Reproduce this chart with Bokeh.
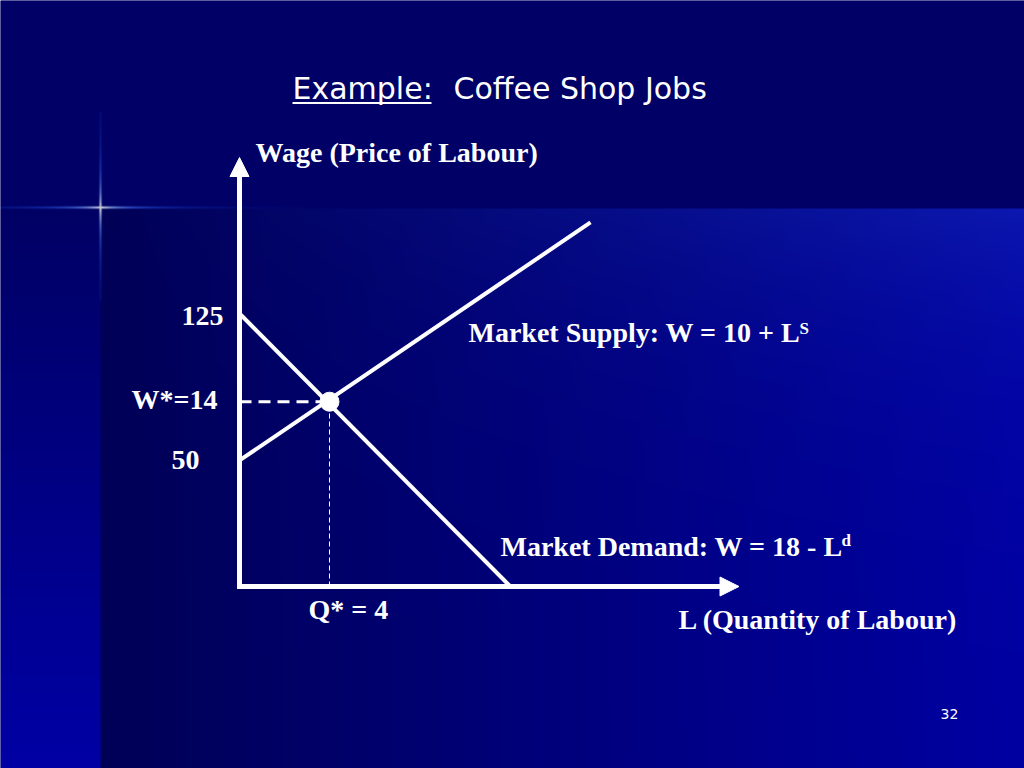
import numpy as np
from bokeh.plotting import figure
from bokeh.models import Range1d, Arrow, NormalHead, ColumnDataSource
from bokeh.core.properties import value
from bokeh.embed import file_html
from bokeh.resources import INLINE

# schematic diagram units: L (labour) on x, W (wage) on y
demand_L = [0.0, 12.04]
demand_W = [20.68, 0.0]
supply_L = [0.0, 15.6]
supply_W = [9.55, 27.58]
eq_L = [4.0]
eq_W = [14.0]

# hand written tick labels of the slide
wage_ticks = [20.68, 14.0, 9.55]
wage_tick_labels = ["125", "W*=14", "50"]
qty_ticks = [4.0]
qty_tick_labels = ["Q* = 4"]

axis_top = 32.5
axis_right = 22.2

# slide pixel -> diagram units (origin of the axes at slide pixel 239, 586)
PX_L = 22.5
PX_W = 13.2


def to_x(px):
    return (px - 239) / PX_L


def to_y(py):
    return (586 - py) / PX_W


p = figure(width=1024, height=768, x_range=Range1d(to_x(0), to_x(1024)),
           y_range=Range1d(to_y(768), to_y(0)), x_axis_type=None, y_axis_type=None,
           toolbar_location=None, output_backend="svg", min_border=0,
           background_fill_color="#000066", border_fill_color="#000066",
           outline_line_color=None)
p.grid.visible = False

# slide background: dark band on top, gradients below, little sparkle cross
H, W = 768, 1024
yy, xx = np.mgrid[0:H, 0:W].astype(float)
r = np.zeros((H, W))
g = np.zeros((H, W))
b = np.full((H, W), 102.0)
top = yy < 207.5
left = (~top) & (xx < 100)
main = (~top) & (xx >= 100)
t = (yy - 207) / 561
b[left] = (100 + 65 * t)[left]
s = (xx - 100) / 924
boost = s * np.exp(-(yy - 207) / 140)
b[main] = (86 + 76 * s + 14 * boost)[main]
r[main] = (12 * boost)[main]
g[main] = (24 * boost)[main]

v_line = np.exp(-((xx - 99.5) / 1.1) ** 2) * np.exp(-np.abs(yy - 207) / 45) * (yy > 110) * (yy < 300)
h_line = np.exp(-((yy - 206.5) / 1.1) ** 2) * np.exp(-np.abs(xx - 100) / 60)
glow = np.clip(np.maximum(v_line, h_line), 0, 1)
white = np.exp(-np.hypot(xx - 100, yy - 207) / 18)
sr = 40 + 215 * white
sg = 100 + 155 * white
sb = 255 - 20 * white
r = r * (1 - glow) + sr * glow
g = g * (1 - glow) + sg * glow
b = b * (1 - glow) + sb * glow

img = np.empty((H, W), dtype=np.uint32)
view = img.view(dtype=np.uint8).reshape((H, W, 4))
view[..., 0] = np.clip(r, 0, 255)
view[..., 1] = np.clip(g, 0, 255)
view[..., 2] = np.clip(b, 0, 255)
view[..., 3] = 255
img = np.ascontiguousarray(img[::-1])
p.image_rgba(image=[img], x=to_x(0), y=to_y(768), dw=1024 / PX_L, dh=768 / PX_W)

# axes with arrow heads
p.add_layout(Arrow(end=NormalHead(size=19, fill_color="white", line_color="white"),
                   x_start=0, y_start=-2.5 / PX_W, x_end=0, y_end=axis_top,
                   line_color="white", line_width=5))
p.add_layout(Arrow(end=NormalHead(size=19, fill_color="white", line_color="white"),
                   x_start=-2.5 / PX_L, y_start=0, x_end=axis_right, y_end=0,
                   line_color="white", line_width=5))

# curves
p.line(demand_L, demand_W, line_color="white", line_width=4)
p.line(supply_L, supply_W, line_color="white", line_width=4)

# equilibrium guides
p.line([0, eq_L[0]], [eq_W[0], eq_W[0]], line_color="white", line_width=3, line_dash="12 7")
p.line([eq_L[0], eq_L[0]], [0, eq_W[0]], line_color="white", line_width=1, line_dash="5 3")
p.scatter(eq_L, eq_W, size=19, color="white")

serif = value("Liberation Serif")
sans = value("DejaVu Sans")

wage_src = ColumnDataSource(dict(x=[0.0] * len(wage_ticks), y=wage_ticks, text=wage_tick_labels,
                                 dx=[-16, -22, -40], dy=[2, -2, 0]))
p.text(x="x", y="y", text="text", source=wage_src, x_offset="dx", y_offset="dy",
       text_align="right", text_baseline="middle", text_color="white",
       text_font=serif, text_font_style="bold", text_font_size="28px")

qty_src = ColumnDataSource(dict(x=qty_ticks, y=[0.0] * len(qty_ticks), text=qty_tick_labels))
p.text(x="x", y="y", text="text", source=qty_src, x_offset=-21, y_offset=22.5,
       text_align="left", text_baseline="middle", text_color="white",
       text_font=serif, text_font_style="bold", text_font_size="28px")

# axis titles
p.text(x=[0], y=[axis_top], text=["Wage (Price of Labour)"], x_offset=16, y_offset=-5.5,
       text_align="left", text_baseline="middle", text_color="white",
       text_font=serif, text_font_style="bold", text_font_size="28px")
p.text(x=[axis_right], y=[0], text=["L (Quantity of Labour)"], x_offset=-60.5, y_offset=32.5,
       text_align="left", text_baseline="middle", text_color="white",
       text_font=serif, text_font_style="bold", text_font_size="28px")

# curve labels with superscripts
p.text(x=[to_x(468), to_x(500)], y=[to_y(331.7), to_y(545.5)],
       text=["Market Supply: W = 10 + L", "Market Demand: W = 18 - L"],
       text_align="left", text_baseline="middle", text_color="white",
       text_font=serif, text_font_style="bold", text_font_size="28px")
p.text(x=[to_x(799), to_x(841)], y=[to_y(328), to_y(540)], text=["S", "d"],
       text_align="left", text_baseline="middle", text_color="white",
       text_font=serif, text_font_style="bold", text_font_size="17px")

# slide title and page number
p.text(x=[to_x(292), to_x(453)], y=[to_y(87.5), to_y(87.5)], text=["Example:", "Coffee Shop Jobs"],
       text_align="left", text_baseline="middle", text_color="white",
       text_font=sans, text_font_size="30px")
p.line([to_x(292), to_x(431)], [to_y(102.5), to_y(102.5)], line_color="white", line_width=2)
p.text(x=[to_x(940)], y=[to_y(713.5)], text=["32"],
       text_align="left", text_baseline="middle", text_color="white",
       text_font=sans, text_font_size="14px")

open("out.html", "w").write(file_html(p, INLINE))
